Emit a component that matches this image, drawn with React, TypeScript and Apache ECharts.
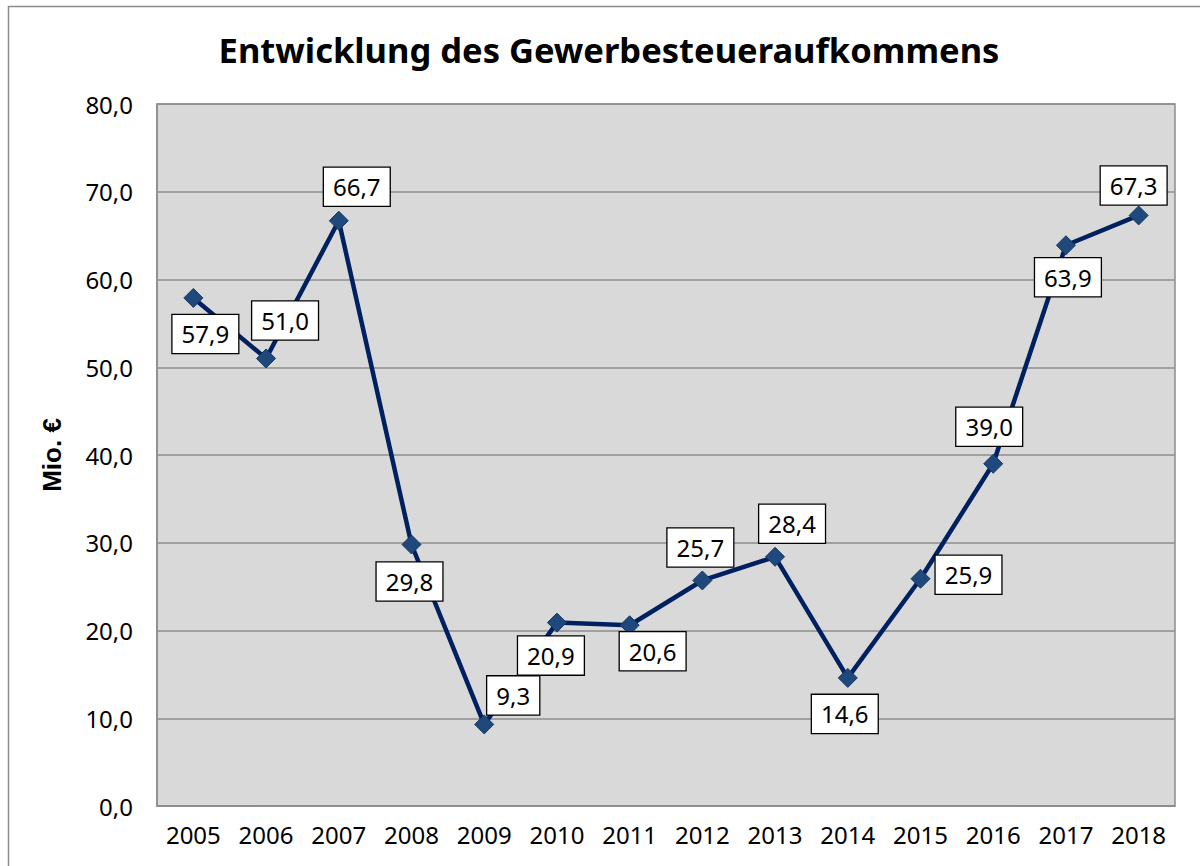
import React, { useEffect, useRef } from "react";
import * as echarts from "echarts";

const years = ["2005", "2006", "2007", "2008", "2009", "2010", "2011", "2012", "2013", "2014", "2015", "2016", "2017", "2018"];
const values = [57.9, 51.0, 66.7, 29.8, 9.3, 20.9, 20.6, 25.7, 28.4, 14.6, 25.9, 39.0, 63.9, 67.3];
// label offsets (styling) relative to each point
const labelOffsets: [number, number][] = [
  [12, 36], [19, -38], [18, -34], [-2, 37], [29, -29], [-6, 33], [23, 26],
  [-2, -33], [17, -33], [-3, 36], [48, -4], [-4, -37], [2, 32], [-5, -30],
];

const fmt = (v: number) => v.toFixed(1).replace(".", ",");
const FONT = "Noto Sans";

export default function App() {
  const ref = useRef<HTMLDivElement>(null);
  useEffect(() => {
    if (!ref.current) return;
    const chart = echarts.init(ref.current, null, { renderer: "svg" });
    chart.setOption({
      animation: false,
      backgroundColor: "#ffffff",
      title: {
        text: "Entwicklung des Gewerbesteueraufkommens",
        left: 604,
        textAlign: "center",
        top: 27,
        textStyle: { fontFamily: FONT, fontSize: 34.5, fontWeight: "bold", color: "#000" },
      },
      graphic: [
        {
          type: "rect",
          shape: { x: 8.5, y: 6.5, width: 1300, height: 1000 },
          style: { fill: "none", stroke: "#8c8c8c", lineWidth: 1.5 },
          silent: true,
          z: -1,
        },
      ],
      grid: {
        left: 157,
        top: 104,
        right: 25,
        bottom: 60,
        show: true,
        backgroundColor: "#d9d9d9",
        borderColor: "#8c8c8c",
        borderWidth: 1.5,
      },
      xAxis: {
        type: "category",
        data: years,
        boundaryGap: true,
        axisLine: { show: true, lineStyle: { color: "#8c8c8c", width: 1.5 } },
        axisTick: { show: false },
        axisLabel: { fontFamily: FONT, fontSize: 24, color: "#000", margin: 16 },
      },
      yAxis: {
        type: "value",
        min: 0,
        max: 80,
        interval: 10,
        name: "Mio. €",
        nameLocation: "middle",
        nameGap: 92,
        nameRotate: 90,
        nameTextStyle: { fontFamily: "Liberation Sans", fontWeight: "bold", fontSize: 26, color: "#000" },
        axisLine: { show: true, lineStyle: { color: "#8c8c8c", width: 1.5 } },
        axisTick: { show: false },
        splitLine: { show: true, lineStyle: { color: "#8c8c8c", width: 1.5 } },
        axisLabel: { fontFamily: FONT, fontSize: 24, color: "#000", margin: 24, formatter: (v: number) => fmt(v) },
      },
      series: [
        {
          type: "line",
          data: values.map((v, i) => ({
            value: v,
            label: { offset: labelOffsets[i] },
          })),
          lineStyle: { color: "#002060", width: 4.5 },
          symbol: "diamond",
          symbolSize: 19,
          itemStyle: { color: "#1f497d", borderColor: "#17375e", borderWidth: 1 },
          label: {
            show: true,
            position: "inside",
            formatter: (p: any) => fmt(p.value),
            fontFamily: FONT,
            fontSize: 24,
            color: "#000",
            backgroundColor: "#fff",
            borderColor: "#000",
            borderWidth: 1.3,
            padding: [5, 9, 3, 9],
            lineHeight: 30,
          },
        },
      ],
    });
    return () => chart.dispose();
  }, []);
  return <div ref={ref} style={{ position: "fixed", left: 0, top: 0, width: 1200, height: 866 }} />;
}
